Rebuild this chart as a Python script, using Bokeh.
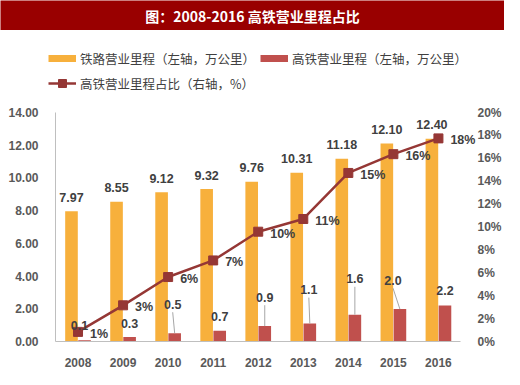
from bokeh.plotting import figure
from bokeh.models import (Range1d, LinearAxis, FixedTicker, ColumnDataSource, LabelSet,
                          Legend, LegendItem, Label, NumeralTickFormatter, PrintfTickFormatter)
from bokeh.layouts import column
from bokeh.embed import file_html
from bokeh.resources import INLINE
from bokeh.core.properties import value

# ---------------- data ----------------
years = ["2008", "2009", "2010", "2011", "2012", "2013", "2014", "2015", "2016"]
rail_km = [7.97, 8.55, 9.12, 9.32, 9.76, 10.31, 11.18, 12.10, 12.40]      # 万公里
hsr_km = [0.07, 0.27, 0.51, 0.66, 0.94, 1.10, 1.64, 1.98, 2.20]           # 万公里
hsr_share = [0.84, 3.16, 5.63, 7.08, 9.59, 10.70, 14.72, 16.36, 17.74]    # %
left_ticks = [0, 2, 4, 6, 8, 10, 12, 14]
right_ticks = [0, 2, 4, 6, 8, 10, 12, 14, 16, 18, 20]
title_text = "图：2008-2016 高铁营业里程占比"
legend_labels = ["铁路营业里程（左轴，万公里）", "高铁营业里程（左轴，万公里）", "高铁营业里程占比（右轴，%）"]

# ---------------- styles ----------------
ORANGE = "#F7B03C"
RED = "#C0504D"
LINE = "#953735"
TXT = "#404040"
TICK = "#595959"
LATIN = "Liberation Sans"
CJK = "Noto Sans CJK SC"

W = 504
TITLE_H = 30
LEG_H = 70
H = 369 - TITLE_H - LEG_H          # 269
L, TOP, BOT, RB = 55, 12, 27, 8    # borders of main figure
INNER_R = 467                      # right end of the category area (fig px)
frame_h = H - TOP - BOT
frame_right = W - RB
px_per_cat = (INNER_R - L) / 9.0
px_per_unit = frame_h / 14.0
x_end = -0.5 + (frame_right - L) / px_per_cat
R_LABEL_X = 478                    # where right tick labels start

# label offsets (pixels) for the high-speed rail labels, and which have leader lines
red_dx = [-5, 0, -2, 0, 0, -1, 0, -7, 0]
red_dy = [15, 14, 29, 14, 29, 34, 36, 29, 15]
red_leader = [False, False, True, False, True, True, True, True, False]
BAR_W = 0.28
OFF = 0.145

# ---------------- title bar ----------------
t = figure(width=W, height=TITLE_H, x_range=Range1d(0, 1), y_range=Range1d(0, 1),
           output_backend="svg", toolbar_location=None, min_border=0,
           x_axis_location=None, y_axis_location=None, frame_align=False,
           background_fill_color="#990000", border_fill_color="#990000")
t.outline_line_color = None
t.grid.visible = False
t.add_layout(Label(x=0.5, y=0.5, text=title_text, text_align="center", text_baseline="middle",
                   text_color="white", text_font=CJK, text_font_style="bold",
                   text_font_size="14px"))

# ---------------- legend strip ----------------
lg = figure(width=W, height=LEG_H, x_range=Range1d(0, 1), y_range=Range1d(0, 1),
            output_backend="svg", toolbar_location=None, min_border=0,
            x_axis_location=None, y_axis_location=None, frame_align=False)
lg.outline_line_color = None
lg.grid.visible = False
off_x, off_y = [-5, -4], [-5, -5]   # proxies kept outside the visible area
r_or = lg.line(x=off_x, y=off_y, line_color=ORANGE, line_width=7)
r_rd = lg.line(x=off_x, y=off_y, line_color=RED, line_width=7)
r_ln = lg.line(x=off_x, y=off_y, line_color=LINE, line_width=2.5)
r_mk = lg.scatter(x=off_x, y=off_y, marker="square", size=9, fill_color=LINE, line_color=LINE)
legend = Legend(items=[LegendItem(label=legend_labels[0], renderers=[r_or]),
                       LegendItem(label=legend_labels[1], renderers=[r_rd]),
                       LegendItem(label=legend_labels[2], renderers=[r_ln, r_mk])],
                location=(48, 7), orientation="horizontal", ncols=2,
                glyph_width=28, glyph_height=20, label_height=20, label_standoff=4,
                spacing=5, padding=0, margin=0, border_line_color=None,
                background_fill_alpha=0, label_text_font=CJK, label_text_font_size="12.5px",
                label_text_color=TXT)
lg.add_layout(legend)

# ---------------- main chart ----------------
p = figure(width=W, height=H, x_range=Range1d(-0.5, x_end), y_range=Range1d(0, 14),
           output_backend="svg", toolbar_location=None,
           min_border_left=L, min_border_right=RB,
           min_border_top=TOP, min_border_bottom=BOT, frame_align=False,
           x_axis_location=None, y_axis_location=None)
p.extra_y_ranges = {"right": Range1d(0, 20)}
p.outline_line_color = None
p.grid.visible = False

idx = list(range(len(years)))
src = ColumnDataSource(dict(
    x=idx,
    x_or=[i - OFF for i in idx],
    x_rd=[i + OFF for i in idx],
    rail=rail_km,
    hsr=hsr_km,
    share=hsr_share,
    rail_txt=["%.2f" % v for v in rail_km],
    hsr_txt=["%.1f" % v for v in hsr_km],
    share_txt=["%d%%" % round(v) for v in hsr_share],
    dx=red_dx,
    dy=red_dy,
))

p.vbar(x="x_or", top="rail", width=BAR_W, source=src, fill_color=ORANGE, line_color=None)
p.vbar(x="x_rd", top="hsr", width=BAR_W, source=src, fill_color=RED, line_color=None)

# leader lines for some labels
lx0, ly0, lx1, ly1 = [], [], [], []
for i in idx:
    if red_leader[i]:
        xc = i + OFF
        lx0.append(xc + red_dx[i] / px_per_cat)
        ly0.append(hsr_km[i] + (red_dy[i] - 8) / px_per_unit)
        lx1.append(xc)
        ly1.append(hsr_km[i])
p.segment(x0=lx0, y0=ly0, x1=lx1, y1=ly1, line_color="#A6A6A6", line_width=1)

p.line("x", "share", source=src, y_range_name="right", line_color=LINE, line_width=2.5)
p.scatter("x", "share", source=src, y_range_name="right", marker="square", size=9,
          fill_color=LINE, line_color=LINE)

# axes
xaxis = LinearAxis(ticker=FixedTicker(ticks=idx), bounds=(-0.5, 8.5),
                   major_label_overrides={i: y for i, y in enumerate(years)})
yaxis = LinearAxis(ticker=FixedTicker(ticks=left_ticks), formatter=NumeralTickFormatter(format="0.00"))
raxis = LinearAxis(y_range_name="right", ticker=FixedTicker(ticks=right_ticks),
                   formatter=PrintfTickFormatter(format="%d%%"))
for ax in (xaxis, yaxis, raxis):
    ax.major_tick_line_color = None
    ax.minor_tick_line_color = None
    ax.major_label_text_font = LATIN
    ax.major_label_text_font_style = "bold"
    ax.major_label_text_font_size = "12px"
    ax.major_label_text_color = TICK
xaxis.axis_line_color = "#BFBFBF"
yaxis.axis_line_color = "#BFBFBF"
raxis.axis_line_color = None
xaxis.major_label_standoff = 10
yaxis.major_label_standoff = 11
raxis.major_label_standoff = R_LABEL_X - frame_right
p.add_layout(xaxis, "below")
p.add_layout(yaxis, "left")
p.add_layout(raxis, "right")

# data labels
common = dict(source=src, text_font=value(LATIN), text_font_style="bold",
              text_font_size="12.5px", text_color=TXT, text_baseline="middle")
p.add_layout(LabelSet(x="x_or", y="rail", text="rail_txt", text_align="center",
                      y_offset=14, **common))
p.add_layout(LabelSet(x="x_rd", y="hsr", text="hsr_txt", text_align="center",
                      x_offset="dx", y_offset="dy", **common))
p.add_layout(LabelSet(x="x", y="share", text="share_txt", text_align="left",
                      y_range_name="right", x_offset=12, y_offset=-2, **common))

layout = column(t, lg, p, spacing=0)
open("out.html", "w").write(file_html(layout, INLINE))
